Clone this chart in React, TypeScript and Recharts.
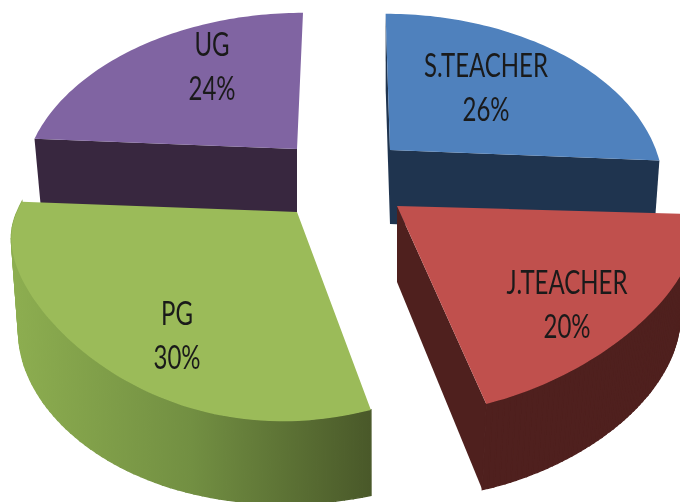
import React from "react";
import { PieChart, Pie } from "recharts";

const categories = ["UG", "S.TEACHER", "J.TEACHER", "PG"];
const shares = [24, 26, 20, 30];
const tableData = categories.map((name, i) => ({ name, value: shares[i] }));

const topColors: Record<string, string> = {
  UG: "#8064a2",
  "S.TEACHER": "#4f81bd",
  "J.TEACHER": "#c0504d",
  PG: "#9bbb59",
};
const wallColors: Record<string, string> = {
  UG: "#38273f",
  "S.TEACHER": "#1f344f",
  "J.TEACHER": "#4f201e",
  PG: "#6f8a40",
};

type Geo = {
  dx: number; dy: number; r: number; t: number; q: number; b: number;
  bx: number; by: number; sx: number; sy: number; bq: number;
  startWall: boolean; endWall: boolean; outerWall: boolean;
  lx: number; ly: number;
};
const geometry: Record<string, Geo> = {
  UG: { dx: -43, dy: -101, r: 267, t: 0.027, q: 0, b: 0, bx: -43, by: -31, sx: 0.975, sy: 0.98, bq: 0, startWall: true, endWall: false, outerWall: false, lx: 212, ly: 45 },
  "S.TEACHER": { dx: 50, dy: -100, r: 266, t: -0.02, q: 0, b: 0, bx: 50, by: -26, sx: 0.98, sy: 0.98, bq: 0, startWall: true, endWall: true, outerWall: false, lx: 486, ly: 66 },
  "J.TEACHER": { dx: 57, dy: -44, r: 290, t: 0.004, q: 0.25, b: 0, bx: 57, by: 32, sx: 0.955, sy: 1.04, bq: 0.1, startWall: false, endWall: true, outerWall: true, lx: 567, ly: 283 },
  PG: { dx: -43, dy: -38, r: 280, t: 0.04, q: 0.25, b: 0.056, bx: -41.5, by: 49, sx: 0.98, sy: 0.98, bq: 0.05, startWall: false, endWall: false, outerWall: true, lx: 177, ly: 314 },
};

const PERSPECTIVE = 0.2115;
const Y_RADIUS = 165;
const RAD = Math.PI / 180;

function project(g: Geo, cx: number, cy: number, deg: number, bottom: boolean) {
  const X = Math.cos(deg * RAD);
  const Y = Math.sin(deg * RAD);
  const w = 1 + PERSPECTIVE * Y;
  const lift = Y < 0 ? X * X * -Y : 0;
  const inset = Y < 0 && X < 0 ? g.b * lift : 0;
  const px = (g.r * (X + g.t * Y + inset)) / w;
  if (bottom) {
    const pyB = (Y_RADIUS * (Y + g.bq * lift)) / w;
    return [cx + g.bx + px * g.sx, cy + g.by - pyB * g.sy];
  }
  const py = (Y_RADIUS * (Y + g.q * lift)) / w;
  return [cx + g.dx + px, cy + g.dy - py];
}

function arc(g: Geo, cx: number, cy: number, a0: number, a1: number, bottom: boolean) {
  const pts: number[][] = [];
  const steps = 72;
  for (let i = 0; i <= steps; i++) pts.push(project(g, cx, cy, a0 + ((a1 - a0) * i) / steps, bottom));
  return pts;
}
const toPath = (pts: number[][]) =>
  "M" + pts.map((p) => `${p[0].toFixed(1)},${p[1].toFixed(1)}`).join("L") + "Z";

function Slice(props: any) {
  const { cx, cy, startAngle, endAngle } = props;
  const name: string = props.name ?? props.payload?.name;
  const g = geometry[name];
  const top = topColors[name];
  const wall = wallColors[name];
  const apexTop = [cx + g.dx, cy + g.dy];
  const apexBottom = [cx + g.bx, cy + g.by];
  const topArc = arc(g, cx, cy, startAngle, endAngle, false);
  const bottomArc = arc(g, cx, cy, startAngle, endAngle, true);
  const radial = (i: number) => [apexTop, topArc[i], bottomArc[i], apexBottom];
  const last = topArc.length - 1;
  const gradId = `wall-${name.replace(".", "")}`;
  const wallFill = name === "PG" ? `url(#${gradId})` : wall;
  return (
    <g>
      <defs>
        {name === "PG" && (
          <linearGradient id={gradId} gradientUnits="userSpaceOnUse" x1="12" y1="0" x2="372" y2="0">
            <stop offset="0%" stopColor="#8dae50" />
            <stop offset="50%" stopColor="#728f42" />
            <stop offset="100%" stopColor="#495829" />
          </linearGradient>
        )}
      </defs>
      {g.startWall && <path d={toPath(radial(0))} fill={wall} />}
      {g.endWall && <path d={toPath(radial(last))} fill={wall} />}
      {g.outerWall &&
        topArc.slice(0, last).map((p, i) => (
          <path
            key={i}
            d={toPath([p, topArc[i + 1], bottomArc[i + 1], bottomArc[i]])}
            fill={wallFill}
            stroke={wallFill}
            strokeWidth={1.4}
          />
        ))}
      <path d={toPath([apexTop, ...topArc])} fill={top} />
    </g>
  );
}

function SliceLabel(props: any) {
  const name: string = props.name ?? props.payload?.name;
  const value = props.value ?? props.payload?.value;
  const g = geometry[name];
  const line = (y: number, s: string) => (
    <text
      transform={`translate(${g.lx},${y}) scale(0.75,1)`}
      textAnchor="middle"
      dominantBaseline="central"
      fontFamily="Lato"
      fontSize={32}
      fill="#1a1a1a"
    >
      {s}
    </text>
  );
  return (
    <g>
      {line(g.ly - 1, name)}
      {line(g.ly + 43, `${value}%`)}
    </g>
  );
}

export default function App() {
  return (
    <div style={{ position: "absolute", left: 0, top: 0, width: 680, height: 502, background: "#fff", filter: "blur(0.4px)" }}>
      <PieChart width={680} height={502} margin={{ top: 0, right: 0, bottom: 0, left: 0 }}>
        <Pie
          data={tableData}
          dataKey="value"
          nameKey="name"
          cx={340}
          cy={250}
          outerRadius={200}
          startAngle={176.4}
          endAngle={-183.6}
          stroke="none"
          isAnimationActive={false}
          shape={Slice}
          label={SliceLabel}
          labelLine={false}
        />
      </PieChart>
    </div>
  );
}
